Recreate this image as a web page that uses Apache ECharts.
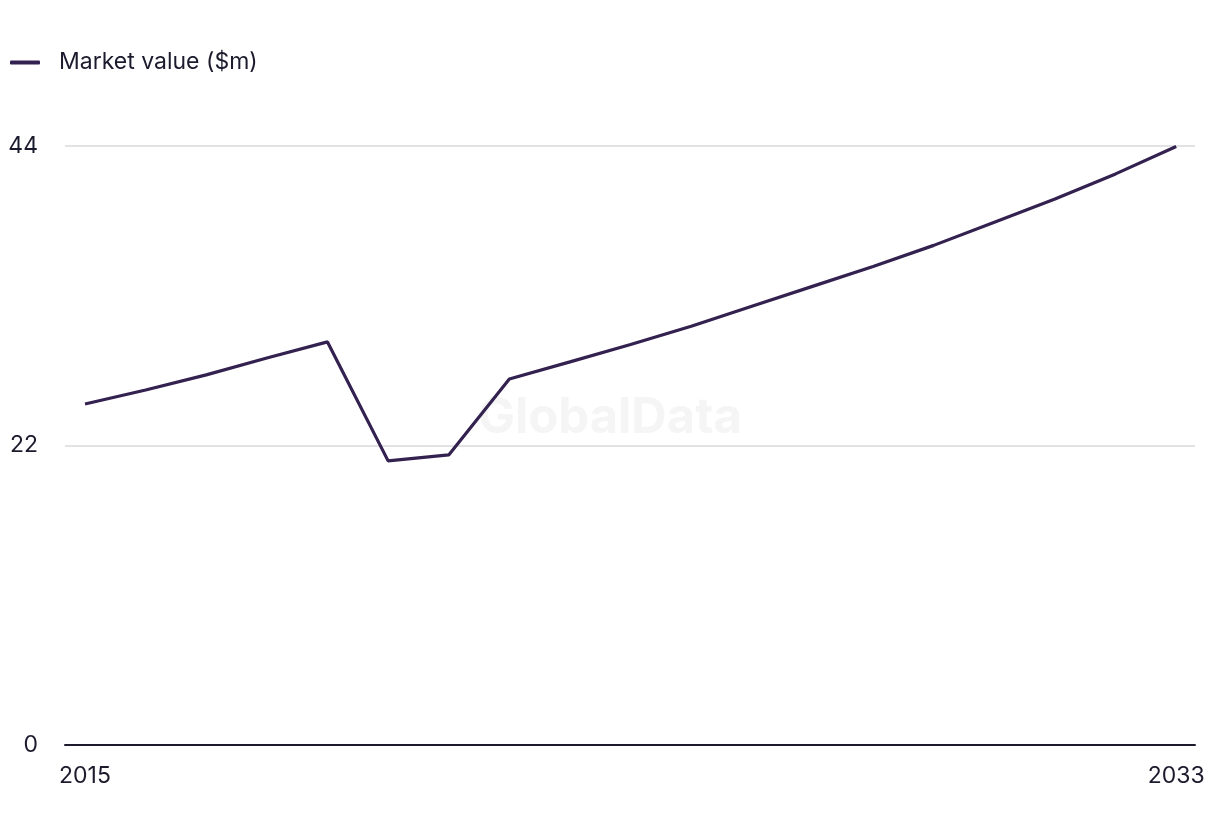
<!DOCTYPE html>
<html><head><meta charset="utf-8">
<script src="https://cdn.jsdelivr.net/npm/echarts@6/dist/echarts.min.js"></script>
<style>html,body{margin:0;padding:0;background:#fff}#c{width:1220px;height:836px}</style>
</head><body><div id="c"></div>
<script>
const years = [2015,2016,2017,2018,2019,2020,2021,2022,2023,2024,2025,2026,2027,2028,2029,2030,2031,2032,2033];
const marketValue = [25.05,26.08,27.19,28.43,29.61,20.87,21.31,26.89,28.14,29.42,30.76,32.23,33.69,35.15,36.7,38.4,40.1,41.95,43.96];
const yTicks = [0,22,44];
const xTickLabels = [2015,2033];
const seriesName = 'Market value ($m)';

const chart = echarts.init(document.getElementById('c'), null, {renderer:'canvas'});
const font = 'Inter, "Liberation Sans", sans-serif';
const fs = 23;
chart.setOption({
  animation:false,
  graphic:[{type:'text', left:'center', top:394, z:0,
    style:{text:'GlobalData', font:'bold 49px '+font, fill:'#f5f5f6'}}],
  legend:{show:true, left:10, top:51, padding:0, itemWidth:30, itemHeight:4, itemGap:10,
    icon:'roundRect',
    textStyle:{fontFamily:font, fontSize:fs, color:'#1c1b2e', padding:[0,0,0,14]},
    data:[seriesName]},
  grid:{left:65, right:25, top:146, bottom:91, containLabel:false},
  xAxis:{type:'value', min:2014.67, max:2033.31,
    axisLine:{show:true, onZero:false, lineStyle:{color:'#1c1b2e', width:2}},
    axisTick:{show:false}, splitLine:{show:false},
    axisLabel:{customValues:xTickLabels, margin:20, fontFamily:font, fontSize:fs, color:'#1c1b2e', formatter:v=>String(v)}},
  yAxis:{type:'value', min:0, max:44, interval:22,
    axisLine:{show:false}, axisTick:{show:false},
    splitLine:{lineStyle:{color:'#d9d9dd', width:1.5}},
    axisLabel:{customValues:yTicks, margin:27, fontFamily:font, fontSize:fs, color:'#1c1b2e'}},
  series:[{name:seriesName, type:'line', data:years.map((y,i)=>[y,marketValue[i]]),
    showSymbol:false, symbol:'none', lineStyle:{color:'#33214f', width:3.2}, itemStyle:{color:'#33214f'}}]
});
</script></body></html>
